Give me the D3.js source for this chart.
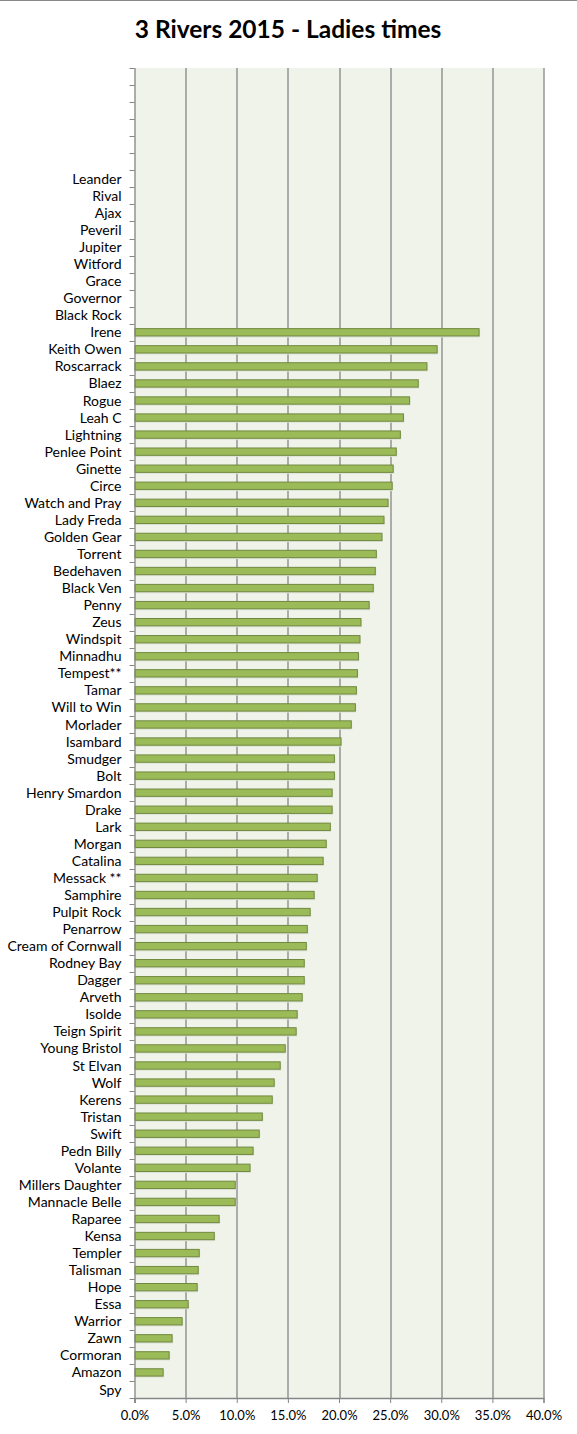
<!DOCTYPE html>
<html>
<head>
<meta charset="utf-8">
<script src="https://cdn.jsdelivr.net/npm/d3@7"></script>
<style>
  body { margin: 0; background: #fff; }
  text { font-family: Lato, "Open Sans", sans-serif; fill: #000; }
</style>
</head>
<body>
<div id="canvas"></div>
<script>
// boats, listed top to bottom as they appear (blank rows kept at top)
var boats = ['', '', '', '', '', '',
  'Leander', 'Rival', 'Ajax', 'Peveril', 'Jupiter', 'Witford', 'Grace', 'Governor', 'Black Rock',
  'Irene', 'Keith Owen', 'Roscarrack', 'Blaez', 'Rogue', 'Leah C', 'Lightning', 'Penlee Point',
  'Ginette', 'Circe', 'Watch and Pray', 'Lady Freda', 'Golden Gear', 'Torrent', 'Bedehaven',
  'Black Ven', 'Penny', 'Zeus', 'Windspit', 'Minnadhu', 'Tempest**', 'Tamar', 'Will to Win',
  'Morlader', 'Isambard', 'Smudger', 'Bolt', 'Henry Smardon', 'Drake', 'Lark', 'Morgan',
  'Catalina', 'Messack **', 'Samphire', 'Pulpit Rock', 'Penarrow', 'Cream of Cornwall',
  'Rodney Bay', 'Dagger', 'Arveth', 'Isolde', 'Teign Spirit', 'Young Bristol', 'St Elvan',
  'Wolf', 'Kerens', 'Tristan', 'Swift', 'Pedn Billy', 'Volante', 'Millers Daughter',
  'Mannacle Belle', 'Raparee', 'Kensa', 'Templer', 'Talisman', 'Hope', 'Essa', 'Warrior',
  'Zawn', 'Cormoran', 'Amazon', 'Spy'];

// percentage, same order (null = no bar)
var pct = [null, null, null, null, null, null,
  null, null, null, null, null, null, null, null, null,
  33.7, 29.6, 28.6, 27.75, 26.9, 26.3, 26.0, 25.6,
  25.3, 25.2, 24.8, 24.4, 24.2, 23.65, 23.55,
  23.35, 22.95, 22.15, 22.05, 21.9, 21.8, 21.7, 21.6,
  21.2, 20.2, 19.55, 19.55, 19.33, 19.33, 19.15, 18.75,
  18.45, 17.87, 17.57, 17.18, 16.9, 16.8,
  16.6, 16.6, 16.4, 15.91, 15.81, 14.74, 14.25,
  13.66, 13.47, 12.5, 12.2, 11.6, 11.3, 9.85,
  9.85, 8.28, 7.8, 6.33, 6.23, 6.13, 5.25, 4.66,
  3.68, 3.39, 2.8, null];

var xTicks = [0, 5, 10, 15, 20, 25, 30, 35, 40];

var title = '3 Rivers 2015 - Ladies times';

var outerWidth = 577, outerHeight = 1434;
var margin = { left: 134.5, top: 68, right: 33.5, bottom: 36 };
var innerWidth = outerWidth - margin.left - margin.right;
var innerHeight = outerHeight - margin.top - margin.bottom;

var x = d3.scaleLinear().domain([0, 40]).range([0, innerWidth]);
var y = d3.scaleBand().domain(d3.range(boats.length)).range([0, innerHeight]).paddingInner(0.57).paddingOuter(0.285);
var yTick = d3.scaleBand().domain(d3.range(boats.length)).range([0, innerHeight]);

var svg = d3.select('#canvas').append('svg')
  .attr('width', outerWidth)
  .attr('height', outerHeight);

// only the top edge of the chart border shows
svg.append('line')
  .attr('x1', 0).attr('x2', outerWidth).attr('y1', 0.5).attr('y2', 0.5)
  .attr('stroke', '#898989').attr('stroke-width', 1.2);

svg.append('text')
  .attr('x', 288).attr('y', 38)
  .attr('text-anchor', 'middle')
  .style('font-size', '24.5px').style('font-weight', 'bold')
  .text(title);

var g = svg.append('g')
  .attr('transform', 'translate(' + margin.left + ',' + margin.top + ')');

g.append('rect')
  .attr('width', innerWidth).attr('height', innerHeight)
  .attr('fill', '#eff3ea');

// vertical grid
g.append('g')
  .attr('class', 'xGrid')
  .selectAll('line')
  .data(xTicks.slice(1))
  .enter().append('line')
  .attr('x1', d => Math.round(x(d)) + 0.5).attr('x2', d => Math.round(x(d)) + 0.5)
  .attr('y1', 0).attr('y2', innerHeight)
  .attr('stroke', '#868686').attr('stroke-width', 1.3);

// bars, with a faint shadow under each
var rows = boats.map((b, i) => ({ i: i, name: b, v: pct[i] })).filter(d => d.v != null);

g.append('g').selectAll('rect')
  .data(rows)
  .enter().append('rect')
  .attr('x', 0).attr('y', d => y(d.i) + 1.5)
  .attr('width', d => x(d.v) + 1).attr('height', y.bandwidth())
  .attr('fill', '#dde2d6');

g.append('g').selectAll('rect')
  .data(rows)
  .enter().append('rect')
  .attr('x', 0.5).attr('y', d => y(d.i))
  .attr('width', d => x(d.v) - 0.5).attr('height', y.bandwidth())
  .attr('fill', '#9bbb59').attr('stroke', '#71893f').attr('stroke-width', 1);

// y axis
var yAxis = g.append('g')
  .attr('class', 'yAxis')
  .call(d3.axisLeft(yTick).tickSize(0).tickPadding(13).tickFormat(i => boats[i]));
yAxis.select('.domain').remove();
yAxis.selectAll('text').style('font-size', '14px').attr('dy', '0.36em').attr('fill', '#000');

g.append('g').selectAll('line')
  .data(d3.range(boats.length + 1))
  .enter().append('line')
  .attr('x1', -5).attr('x2', 0)
  .attr('y1', i => Math.round(i * yTick.step()) + 0.5).attr('y2', i => Math.round(i * yTick.step()) + 0.5)
  .attr('stroke', '#868686');

g.append('line')
  .attr('x1', 0.5).attr('x2', 0.5).attr('y1', 0).attr('y2', innerHeight + 5)
  .attr('stroke', '#868686').attr('stroke-width', 1.3);

// x axis
var xAxis = g.append('g')
  .attr('class', 'xAxis')
  .attr('transform', 'translate(0,' + innerHeight + ')')
  .call(d3.axisBottom(x).tickValues(xTicks).tickSize(5).tickPadding(8).tickFormat(d => d.toFixed(1) + '%'));
xAxis.select('.domain').attr('stroke', '#868686').attr('stroke-width', 1.3);
xAxis.selectAll('.tick line').attr('stroke', '#868686');
xAxis.selectAll('text').style('font-size', '13px').attr('fill', '#000');
</script>
</body>
</html>
